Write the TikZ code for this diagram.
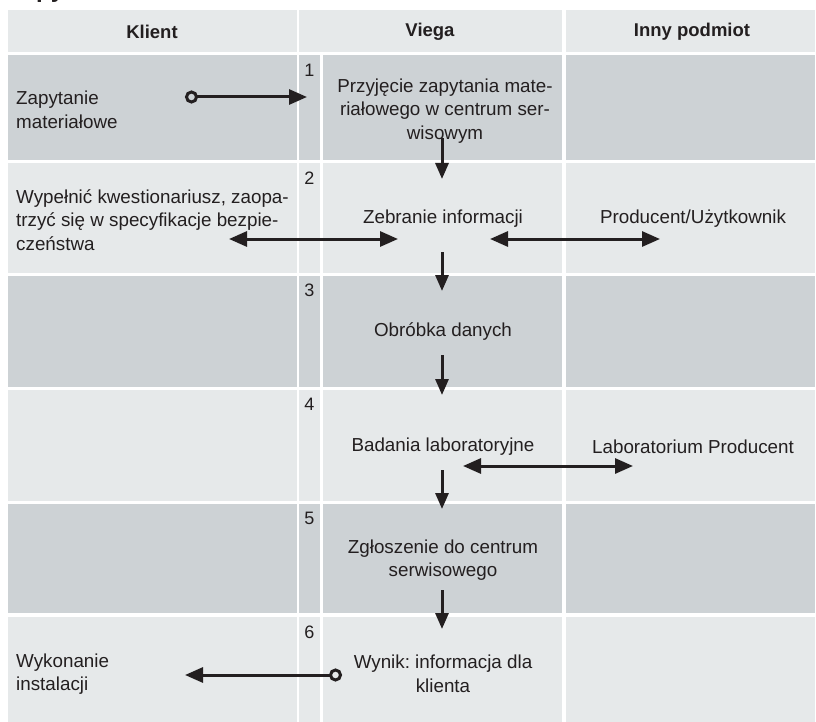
\documentclass[tikz,border=0pt]{standalone}
\usepackage{fontspec}
\setmainfont{Liberation Sans}
\usetikzlibrary{arrows.meta}
\frenchspacing
\definecolor{rowdark}{RGB}{205,210,213}
\definecolor{rowlight}{RGB}{230,233,234}
\definecolor{ink}{RGB}{35,31,32}
\tikzset{
  txt/.style={inner sep=0pt, text=ink, font=\fontsize{18.8}{23.5}\selectfont},
  hdr/.style={inner sep=0pt, text=ink, font=\fontsize{18.5}{23}\selectfont\bfseries},
  num/.style={inner sep=0pt, text=ink, font=\fontsize{18}{22}\selectfont},
  flow/.style={draw=ink, line width=3pt, -{Triangle[length=16pt,width=13pt]}},
  both/.style={draw=ink, line width=3pt, {Triangle[length=18pt,width=15pt]}-{Triangle[length=18pt,width=15pt]}},
  startflow/.style={draw=ink, line width=3pt, {Circle[open,length=13pt,width=13pt]}-{Triangle[length=18pt,width=15pt]}}
}
\begin{document}
\begin{tikzpicture}[x=1pt,y=-1pt]
\useasboundingbox (0,0) rectangle (816,722);
% cut-off title (only its descenders show, as in the reference)
\node[anchor=base west, inner sep=0pt, text=ink, font=\fontsize{24}{28}\selectfont\bfseries] (title) at (8,-2.5) {Zapytanie materiałowe};
% header
\fill[rowlight] (8,10) rectangle (297,52);
\fill[rowlight] (299,10) rectangle (562,52);
\fill[rowlight] (566,10) rectangle (815,52);
% rows
\foreach \t/\b/\c in {55.5/160/rowdark, 163/273/rowlight, 276/387/rowdark, 390/501/rowlight, 503.5/613/rowdark, 616.5/722/rowlight}{
  \fill[\c] (8,\t) rectangle (297,\b);
  \fill[\c] (299,\t) rectangle (320,\b);
  \fill[\c] (323,\t) rectangle (562,\b);
  \fill[\c] (566,\t) rectangle (815,\b);
}
% headers
\node[hdr] (hk) at (152,32) {Klient};
\node[hdr] (hv) at (430,32) {Viega};
\node[hdr] (hi) at (692,32) {Inny podmiot};
% numbers
\node[num] (n1) at (309.5,70) {1};
\node[num] (n2) at (309.5,178) {2};
\node[num] (n3) at (309.5,290) {3};
\node[num] (n4) at (309.5,404) {4};
\node[num] (n5) at (309.5,518) {5};
\node[num] (n6) at (309.5,632) {6};
% texts
\node[txt, anchor=west, align=left] (k1) at (16,110) {Zapytanie\\materiałowe};
\node[txt, align=center] (v1) at (445,111) {Przyjęcie zapytania mate-\\riałowego w centrum ser-\\wisowym};
\node[txt, anchor=west, align=left] (k2) at (16,220) {Wypełnić kwestionariusz, zaopa-\\trzyć się w specyfikacje bezpie-\\czeństwa};
\node[txt] (v2) at (443,219) {Zebranie informacji};
\node[txt] (i2) at (693,219) {Producent/Użytkownik};
\node[txt] (v3) at (443,332) {Obróbka danych};
\node[txt] (v4) at (443,447) {Badania laboratoryjne};
\node[txt] (i4) at (693,447) {Laboratorium Producent};
\node[txt, align=center] (v5) at (443,560) {Zgłoszenie do centrum\\serwisowego};
\node[txt, align=center] (v6) at (443,674) {Wynik: informacja dla\\klienta};
\node[txt, anchor=west, align=left] (k6) at (16,674) {Wykonanie\\instalacji};
% connector ends
\coordinate (a1s) at (185,97);   \coordinate (a1e) at (307,97);
\coordinate (d1s) at (442,138);  \coordinate (d1e) at (442,179);
\coordinate (b1s) at (229,239);  \coordinate (b1e) at (398,239);
\coordinate (b2s) at (490,239);  \coordinate (b2e) at (660,239);
\coordinate (d2s) at (442,252);  \coordinate (d2e) at (442,291);
\coordinate (d3s) at (442,355);  \coordinate (d3e) at (442,395);
\coordinate (b3s) at (463,466);  \coordinate (b3e) at (633,466);
\coordinate (d4s) at (442,470);  \coordinate (d4e) at (442,509);
\coordinate (d5s) at (442,590);  \coordinate (d5e) at (442,629);
\coordinate (a6s) at (342,675);  \coordinate (a6e) at (185,675);
% connectors
\draw[startflow] (a1s) -- (a1e);
\draw[flow] (d1s) -- (d1e);
\draw[both] (b1s) -- (b1e);
\draw[both] (b2s) -- (b2e);
\draw[flow] (d2s) -- (d2e);
\draw[flow] (d3s) -- (d3e);
\draw[both] (b3s) -- (b3e);
\draw[flow] (d4s) -- (d4e);
\draw[flow] (d5s) -- (d5e);
\draw[startflow] (a6s) -- (a6e);
\end{tikzpicture}
\end{document}
